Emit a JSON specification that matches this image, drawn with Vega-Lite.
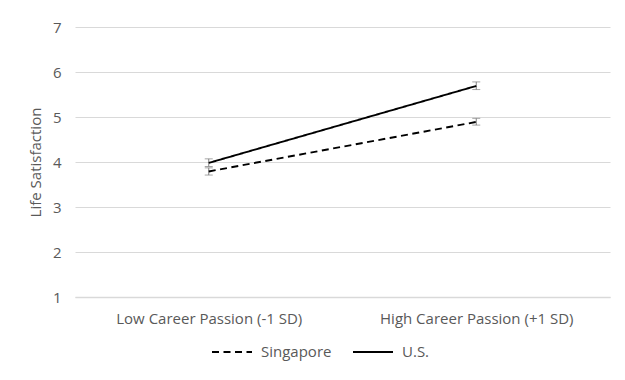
{
  "$schema": "https://vega.github.io/schema/vega-lite/v6.json",
  "autosize": "none",
  "width": 535,
  "height": 270,
  "padding": {"left": 75, "top": 27, "right": 15, "bottom": 83},
  "background": "white",
  "config": {
    "font": "Open Sans",
    "view": {"stroke": null},
    "axis": {"labelColor": "#595959", "titleColor": "#595959", "labelFontSize": 15, "titleFontSize": 15, "titleFontWeight": "normal", "labelLimit": 0},
    "legend": {"labelColor": "#595959", "labelFontSize": 15, "labelLimit": 0}
  },
  "datasets": {
    "means": [
      {"passion": "Low Career Passion (-1 SD)", "country": "Singapore", "satisfaction": 3.79, "lower": 3.71, "upper": 3.87},
      {"passion": "High Career Passion (+1 SD)", "country": "Singapore", "satisfaction": 4.89, "lower": 4.82, "upper": 4.97},
      {"passion": "Low Career Passion (-1 SD)", "country": "U.S.", "satisfaction": 3.98, "lower": 3.9, "upper": 4.07},
      {"passion": "High Career Passion (+1 SD)", "country": "U.S.", "satisfaction": 5.69, "lower": 5.61, "upper": 5.78}
    ]
  },
  "data": {"name": "means"},
  "encoding": {
    "x": {
      "field": "passion", "type": "nominal",
      "sort": ["Low Career Passion (-1 SD)", "High Career Passion (+1 SD)"],
      "scale": {"type": "point", "padding": 0.5},
      "axis": {"title": null, "labelAngle": 0, "ticks": false, "domainColor": "#d9d9d9", "domainWidth": 1.5, "labelPadding": 14, "grid": false, "labelLimit": 0}
    }
  },
  "layer": [
    {
      "mark": {"type": "rule", "color": "#7f7f7f", "strokeWidth": 1},
      "encoding": {
        "y": {"field": "lower", "type": "quantitative", "scale": {"domain": [1, 7]},
          "axis": {"title": "Life Satisfaction", "values": [1, 2, 3, 4, 5, 6, 7], "ticks": false, "domain": false, "gridColor": "#d9d9d9", "labelPadding": 14, "titlePadding": 9}},
        "y2": {"field": "upper"}
      }
    },
    {
      "mark": {"type": "tick", "color": "#7f7f7f", "size": 8, "thickness": 1},
      "encoding": {"y": {"field": "lower", "type": "quantitative"}}
    },
    {
      "mark": {"type": "tick", "color": "#7f7f7f", "size": 8, "thickness": 1},
      "encoding": {"y": {"field": "upper", "type": "quantitative"}}
    },
    {
      "mark": {"type": "line", "color": "black", "strokeWidth": 1.9},
      "encoding": {
        "y": {"field": "satisfaction", "type": "quantitative"},
        "strokeDash": {
          "field": "country", "type": "nominal",
          "scale": {"domain": ["Singapore", "U.S."], "range": [[7, 4.5], [1, 0]]},
          "legend": {"title": null, "orient": "none", "legendX": 136, "legendY": 304, "direction": "horizontal", "symbolType": "stroke", "symbolSize": 1600, "symbolStrokeWidth": 1.9, "symbolStrokeColor": "black", "columnPadding": 17, "labelOffset": 8}
        }
      }
    }
  ]
}
